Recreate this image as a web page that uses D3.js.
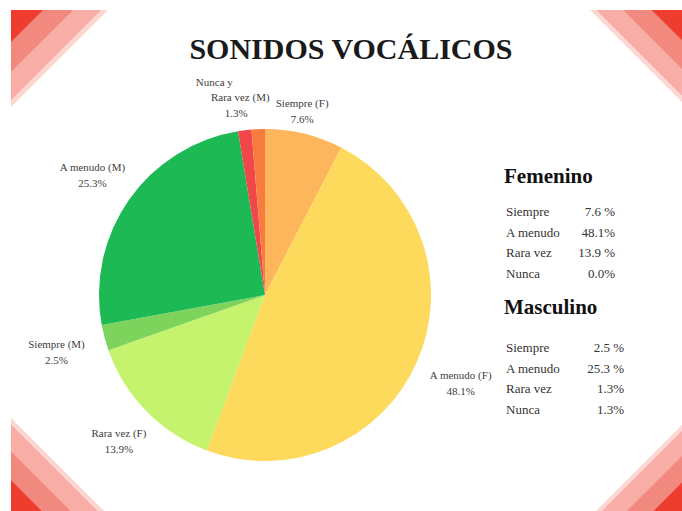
<!DOCTYPE html>
<html>
<head>
<meta charset="utf-8">
<script src="https://cdn.jsdelivr.net/npm/d3@7"></script>
<style>
  body { margin: 0; background: #fff; }
  svg text { font-family: "Liberation Serif", "DejaVu Serif", serif; }
</style>
</head>
<body>
<div id="chart"></div>
<script>
// data
const categories = ["Siempre (F)", "A menudo (F)", "Rara vez (F)", "Nunca (F)",
                    "Siempre (M)", "A menudo (M)", "Rara vez (M)", "Nunca (M)"];
const values = [7.6, 48.1, 13.9, 0.0, 2.5, 25.3, 1.3, 1.3];
const colors = ["#fdb65c", "#fdd95c", "#c6f36e", "#9be06a",
                "#7ed35c", "#1cb955", "#f2474a", "#f97c3f"];

const femLabels = ["Siempre", "A menudo", "Rara vez", "Nunca"];
const femValues = ["7.6 %", "48.1%", "13.9 %", "0.0%"];
const mascLabels = ["Siempre", "A menudo", "Rara vez", "Nunca"];
const mascValues = ["2.5 %", "25.3 %", "1.3%", "1.3%"];

const width = 682, height = 511;
const svg = d3.select("#chart").append("svg")
    .attr("width", width)
    .attr("height", height);

// corner decorations (striped triangles)
const bandFrac = [1, 0.93, 0.64, 0.33];
const bandColors = ["#fcd6d1", "#f8ada6", "#f2897f", "#ee3c2e"];
const corners = [
    {x: 11, y: 10, sx: 1, sy: 1, size: 97},
    {x: 682, y: 10, sx: -1, sy: 1, size: 92},
    {x: 11, y: 511, sx: 1, sy: -1, size: 93},
    {x: 682, y: 511, sx: -1, sy: -1, size: 86}
];
let deco = svg.append("g").attr("id", "deco");
corners.forEach(c => {
    bandFrac.forEach((f, i) => {
        let s = c.size * f;
        deco.append("polygon")
            .attr("points", [[c.x, c.y], [c.x + c.sx * s, c.y], [c.x, c.y + c.sy * s]].join(" "))
            .style("fill", bandColors[i]);
    });
});

// title
svg.append("text")
    .attr("x", 351)
    .attr("y", 59)
    .attr("text-anchor", "middle")
    .style("font-size", "30px")
    .style("font-weight", "bold")
    .style("fill", "#1a1a1a")
    .text("SONIDOS VOCÁLICOS");

// pie
const cx = 265, cy = 295, radius = 166;
const pie = d3.pie().sort(null).value(d => d.value);
const arcs = pie(categories.map((c, i) => ({name: c, value: values[i], color: colors[i]})));
const arc = d3.arc().innerRadius(0).outerRadius(radius);

let pieG = svg.append("g").attr("transform", "translate(" + cx + "," + cy + ")");
pieG.selectAll("path").data(arcs).enter()
    .append("path")
    .attr("d", arc)
    .style("fill", d => d.data.color);

// slice labels, placed on an outer ring along each slice's mid angle
const labelRing = {0: 1.15, 1: 1.29, 2: 1.25, 4: 1.3, 5: 1.27};
const labelShift = {0: -8, 2: 2};
let labelG = svg.append("g").attr("transform", "translate(" + cx + "," + cy + ")");
arcs.forEach((d, i) => {
    if (!(i in labelRing)) return;
    let a = (d.startAngle + d.endAngle) / 2;
    let r = radius * labelRing[i];
    let x = Math.sin(a) * r + (labelShift[i] || 0), y = -Math.cos(a) * r;
    let t = labelG.append("text")
        .attr("text-anchor", "middle")
        .style("font-size", "11px")
        .style("fill", "#404040");
    t.append("tspan").attr("x", x).attr("y", y - 3).text(d.data.name);
    t.append("tspan").attr("x", x).attr("y", y + 13).text(d.data.value.toFixed(1) + "%");
});

// combined label for the two thin male slices
{
    let a = arcs[6].startAngle;
    let b = arcs[7].endAngle;
    let m = (a + b) / 2;
    let r = radius * 1.16;
    let x = Math.sin(m) * r - 10, y = -Math.cos(m) * r;
    let t = labelG.append("text")
        .attr("text-anchor", "middle")
        .style("font-size", "11px")
        .style("fill", "#404040");
    t.append("tspan").attr("x", x - 25).attr("y", y - 17).text("Nunca y");
    t.append("tspan").attr("x", x + 1).attr("y", y - 2).text("Rara vez (M)");
    t.append("tspan").attr("x", x - 3).attr("y", y + 14).text(arcs[7].data.value.toFixed(1) + "%");
}

// legend blocks
function legendBlock(title, titleY, labels, vals, rowY0, valRight) {
    let g = svg.append("g");
    g.append("text")
        .attr("x", 504)
        .attr("y", titleY)
        .style("font-size", "21px")
        .style("font-weight", "bold")
        .style("fill", "#111")
        .text(title);
    let y = d3.scalePoint().domain(d3.range(labels.length)).range([rowY0, rowY0 + 62]);
    labels.forEach((l, i) => {
        g.append("text")
            .attr("x", 506)
            .attr("y", y(i))
            .style("font-size", "13px")
            .style("fill", "#333")
            .text(l);
        g.append("text")
            .attr("x", valRight)
            .attr("y", y(i))
            .attr("text-anchor", "end")
            .style("font-size", "13px")
            .style("fill", "#333")
            .text(vals[i]);
    });
}
legendBlock("Femenino", 183, femLabels, femValues, 216, 615);
legendBlock("Masculino", 314, mascLabels, mascValues, 352, 624);
</script>
</body>
</html>
